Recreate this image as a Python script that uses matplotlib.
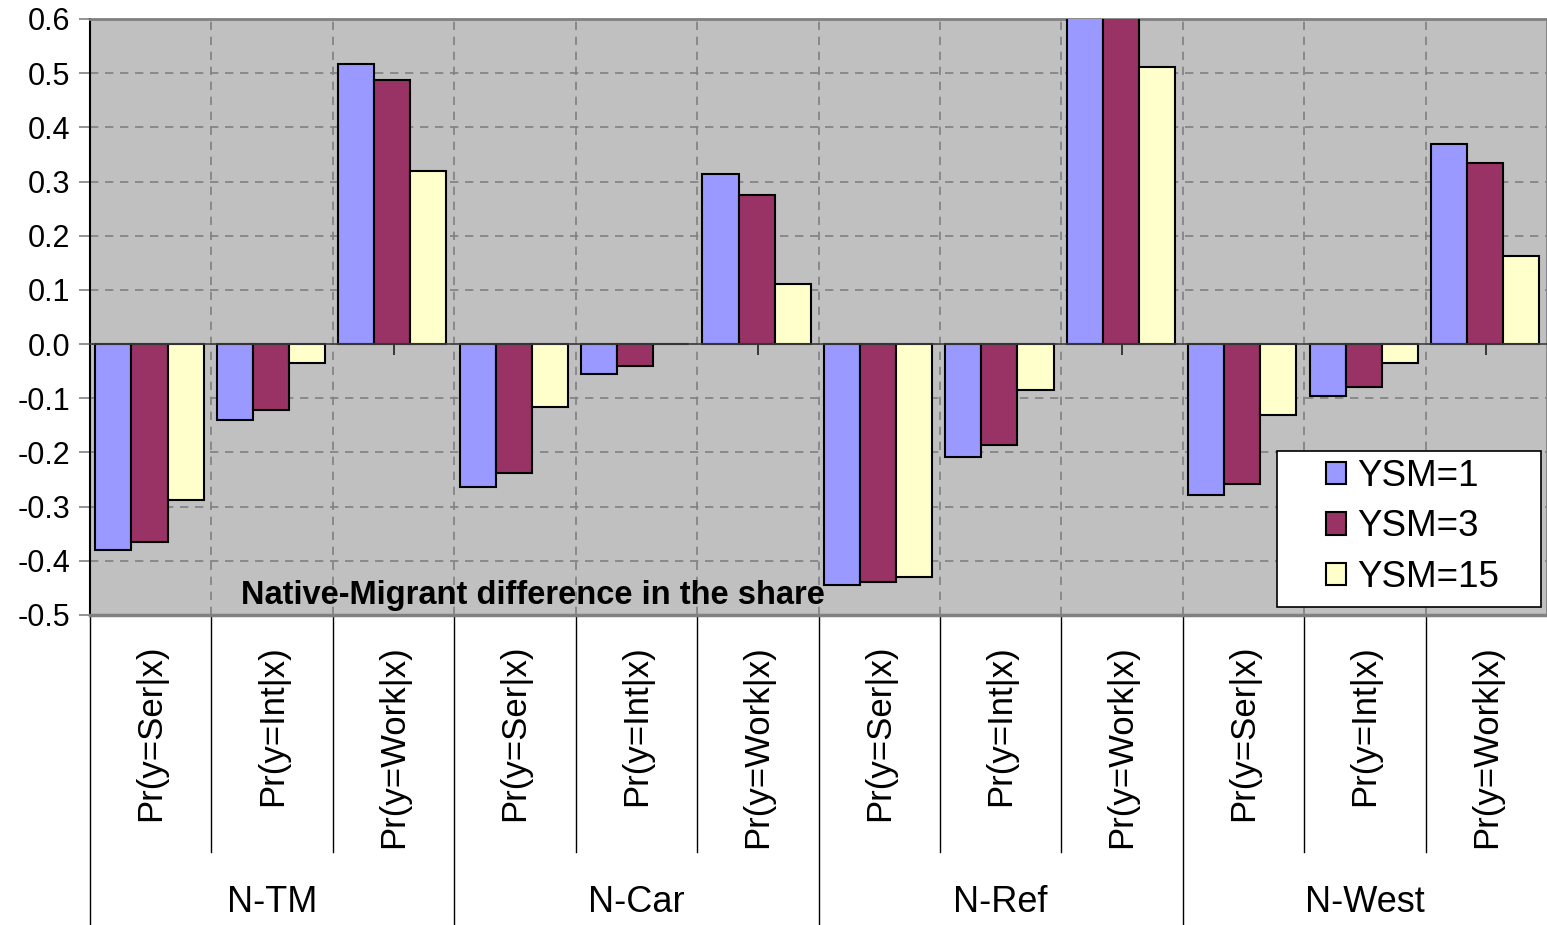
import matplotlib
matplotlib.use("Agg")
from matplotlib import pyplot as plt
from matplotlib.patches import Rectangle
from matplotlib.transforms import blended_transform_factory

plt.rcParams['font.family'] = ['Liberation Sans', 'DejaVu Sans']

# chart data
groups = ['N-TM', 'N-Car', 'N-Ref', 'N-West']
outcomes = ['Pr(y=Ser|x)', 'Pr(y=Int|x)', 'Pr(y=Work|x)']
series_names = ['YSM=1', 'YSM=3', 'YSM=15']
ysm1 = [-0.380, -0.140, 0.517, -0.264, -0.055, 0.314, -0.445, -0.209, 0.66, -0.279, -0.096, 0.369]
ysm3 = [-0.365, -0.122, 0.487, -0.238, -0.041, 0.275, -0.439, -0.186, 0.64, -0.258, -0.079, 0.334]
ysm15 = [-0.288, -0.035, 0.319, -0.116, 0.0, 0.111, -0.430, -0.085, 0.511, -0.131, -0.035, 0.162]
y_ticks = [-0.5, -0.4, -0.3, -0.2, -0.1, 0.0, 0.1, 0.2, 0.3, 0.4, 0.5, 0.6]
note = 'Native-Migrant difference in the share'

colors = ['#9999FF', '#993366', '#FFFFCC']

fig = plt.figure(figsize=(15.47, 9.25), dpi=100)
ax = fig.add_axes([90 / 1547, 1 - 615 / 925, 1457 / 1547, 596 / 925])
ax.set_facecolor('#C0C0C0')

n = len(groups) * len(outcomes)
x = list(range(n))
w = 0.297
for i, (vals, c, name) in enumerate(zip([ysm1, ysm3, ysm15], colors, series_names)):
    ax.bar([p + (i - 1) * w - 0.01 for p in x], vals, width=w, color=c,
           edgecolor='black', linewidth=1.5, label=name, zorder=3)

ax.set_xlim(-0.5, n - 0.5)
ax.set_ylim(-0.5, 0.6)

# dashed grid, excel style
for v in y_ticks[1:-1]:
    ax.axhline(v, color='#808080', linestyle=(0, (5, 4)), linewidth=1.2, zorder=1)
for k in range(1, n):
    ax.axvline(k - 0.5, color='#808080', linestyle=(0, (5, 4)), linewidth=1.2, zorder=1)

# y axis
ax.set_yticks(y_ticks)
ax.set_yticklabels([f'{v:.1f}' for v in y_ticks], fontsize=22)
ax.tick_params(axis='y', direction='out', length=8, width=1.2, color='#808080', pad=6)

# x axis sits on zero
ax.spines['bottom'].set_position(('data', 0))
ax.spines['bottom'].set_color('#404040')
ax.spines['bottom'].set_linewidth(1.2)
ax.spines['bottom'].set_zorder(4)
ax.set_xticks(x)
ax.set_xticklabels([''] * n)
ax.tick_params(axis='x', direction='out', length=8, width=1.2, color='#202020')
ax.spines['left'].set_color('black')
ax.spines['left'].set_linewidth(1.5)
ax.spines['top'].set_color('#808080')
ax.spines['top'].set_linewidth(2)
ax.spines['right'].set_color('#808080')
ax.spines['right'].set_linewidth(2)
ax.axhline(-0.5, color='#808080', linewidth=2.5, zorder=4, clip_on=False)

# category labels below the plot
trans = blended_transform_factory(ax.transData, ax.transAxes)
for k in range(n):
    ax.text(k, -0.05, outcomes[k % 3], rotation=90, ha='center', va='top',
            fontsize=25, transform=trans)
for k in range(n):
    bottom = -0.52 if k % 3 == 0 else -0.398
    ax.plot([k - 0.5, k - 0.5], [0, bottom], color='black', linewidth=1,
            transform=trans, clip_on=False)
for g, name in enumerate(groups):
    ax.text(g * 3 + 1, -0.482, name, ha='center', va='center', fontsize=26,
            transform=trans)

ax.text(3.15, 0.032, note, ha='center', va='center', fontsize=23.5,
        fontweight='bold', transform=trans, zorder=5)

# legend: white box with the entries inset
box = Rectangle(((1277 - 90) / 1457, (615 - 607) / 596), 264 / 1457, 156 / 596,
                transform=ax.transAxes, facecolor='white', edgecolor='black',
                linewidth=1.2, zorder=6)
ax.add_patch(box)
leg = ax.legend(loc='center left', bbox_to_anchor=((1326 - 90) / 1457, (615 - 527) / 596),
                fontsize=26.5, frameon=False,
                handlelength=0.55, handleheight=0.55, handletextpad=0.3,
                labelspacing=0.42, borderpad=0, borderaxespad=0)
leg.set_zorder(7)

fig.savefig('out.png', dpi=100)
